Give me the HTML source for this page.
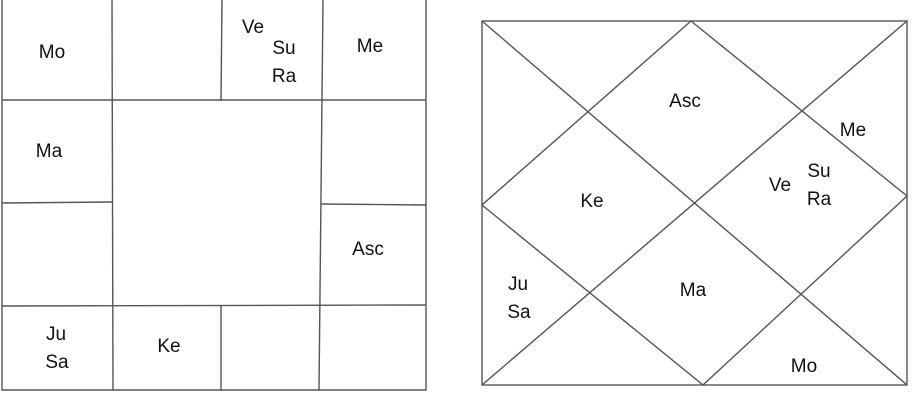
<!DOCTYPE html>
<html><head><style>
body{margin:0;background:#fff;width:920px;height:400px;overflow:hidden}
svg text{font-family:"Liberation Sans",Arial,sans-serif;font-size:19px;fill:#111;text-anchor:middle}
</style></head><body>
<svg width="920" height="400" viewBox="0 0 920 400">
<g stroke="#555" stroke-width="1.4" fill="none">
<polyline points="2,0 2,390 426,390 426,0"/>
<line x1="112" y1="0" x2="113" y2="390"/>
<line x1="222" y1="0" x2="221" y2="101"/>
<line x1="221" y1="306" x2="221" y2="390"/>
<line x1="323" y1="0" x2="319" y2="390"/>
<line x1="2" y1="100" x2="426" y2="100"/>
<line x1="2" y1="203" x2="112" y2="202"/>
<line x1="321" y1="204" x2="426" y2="205"/>
<line x1="2" y1="306" x2="426" y2="305"/>
<rect x="482" y="21" width="425" height="364"/>
<line x1="482" y1="21" x2="907" y2="385"/>
<line x1="907" y1="21" x2="482" y2="385"/>
<polygon points="691,21 907,196 703,385 482,205"/>
</g>
<text x="52" y="58">Mo</text>
<text x="49" y="157">Ma</text>
<text x="56" y="340">Ju</text>
<text x="57" y="368">Sa</text>
<text x="169" y="352">Ke</text>
<text x="253" y="33">Ve</text>
<text x="284" y="54">Su</text>
<text x="284" y="82">Ra</text>
<text x="370" y="52">Me</text>
<text x="368" y="255">Asc</text>
<text x="685" y="107">Asc</text>
<text x="853" y="136">Me</text>
<text x="780" y="191">Ve</text>
<text x="819" y="177">Su</text>
<text x="819" y="205">Ra</text>
<text x="592" y="207">Ke</text>
<text x="693" y="296">Ma</text>
<text x="518" y="290">Ju</text>
<text x="519" y="318">Sa</text>
<text x="804" y="372">Mo</text>
</svg>
</body></html>
